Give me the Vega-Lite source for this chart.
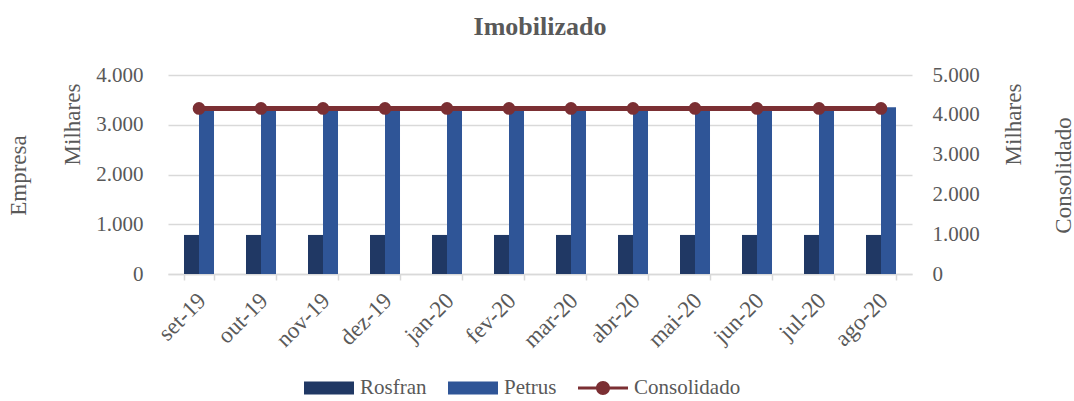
{
  "$schema": "https://vega.github.io/schema/vega-lite/v6.json",
  "width": 744,
  "height": 199,
  "autosize": {"type": "none"},
  "padding": {"left": 168, "top": 75, "right": 162, "bottom": 127},
  "background": "white",
  "title": {
    "text": "Imobilizado",
    "font": "Liberation Serif",
    "fontSize": 26,
    "fontWeight": "bold",
    "color": "#595959",
    "anchor": "middle",
    "frame": "group",
    "baseline": "alphabetic",
    "offset": 3
  },
  "datasets": {
    "bars": [
      {"mes": "set-19", "serie": "Rosfran", "valor": 785},
      {"mes": "set-19", "serie": "Petrus", "valor": 3300},
      {"mes": "out-19", "serie": "Rosfran", "valor": 785},
      {"mes": "out-19", "serie": "Petrus", "valor": 3300},
      {"mes": "nov-19", "serie": "Rosfran", "valor": 785},
      {"mes": "nov-19", "serie": "Petrus", "valor": 3300},
      {"mes": "dez-19", "serie": "Rosfran", "valor": 785},
      {"mes": "dez-19", "serie": "Petrus", "valor": 3300},
      {"mes": "jan-20", "serie": "Rosfran", "valor": 785},
      {"mes": "jan-20", "serie": "Petrus", "valor": 3300},
      {"mes": "fev-20", "serie": "Rosfran", "valor": 785},
      {"mes": "fev-20", "serie": "Petrus", "valor": 3300},
      {"mes": "mar-20", "serie": "Rosfran", "valor": 785},
      {"mes": "mar-20", "serie": "Petrus", "valor": 3300},
      {"mes": "abr-20", "serie": "Rosfran", "valor": 785},
      {"mes": "abr-20", "serie": "Petrus", "valor": 3300},
      {"mes": "mai-20", "serie": "Rosfran", "valor": 785},
      {"mes": "mai-20", "serie": "Petrus", "valor": 3300},
      {"mes": "jun-20", "serie": "Rosfran", "valor": 785},
      {"mes": "jun-20", "serie": "Petrus", "valor": 3300},
      {"mes": "jul-20", "serie": "Rosfran", "valor": 785},
      {"mes": "jul-20", "serie": "Petrus", "valor": 3300},
      {"mes": "ago-20", "serie": "Rosfran", "valor": 785},
      {"mes": "ago-20", "serie": "Petrus", "valor": 3350}
    ],
    "cons": [
      {"mes": "set-19", "serie": "Consolidado", "valor": 4160},
      {"mes": "out-19", "serie": "Consolidado", "valor": 4160},
      {"mes": "nov-19", "serie": "Consolidado", "valor": 4160},
      {"mes": "dez-19", "serie": "Consolidado", "valor": 4160},
      {"mes": "jan-20", "serie": "Consolidado", "valor": 4160},
      {"mes": "fev-20", "serie": "Consolidado", "valor": 4160},
      {"mes": "mar-20", "serie": "Consolidado", "valor": 4160},
      {"mes": "abr-20", "serie": "Consolidado", "valor": 4160},
      {"mes": "mai-20", "serie": "Consolidado", "valor": 4160},
      {"mes": "jun-20", "serie": "Consolidado", "valor": 4160},
      {"mes": "jul-20", "serie": "Consolidado", "valor": 4160},
      {"mes": "ago-20", "serie": "Consolidado", "valor": 4160}
    ]
  },
  "encoding": {
    "x": {
      "field": "mes",
      "type": "nominal",
      "sort": null,
      "scale": {"paddingInner": 0.516, "paddingOuter": 0.258},
      "axis": {
        "title": null,
        "labelAngle": -45,
        "labelFont": "Liberation Serif",
        "labelFontSize": 23,
        "labelColor": "#595959",
        "labelPadding": 9,
        "labelOffset": -5,
        "tickBand": "extent",
        "ticks": true,
        "tickSize": 6,
        "tickColor": "#D9D9D9",
        "tickWidth": 1.5,
        "domainColor": "#D9D9D9",
        "domainWidth": 1.5,
        "grid": false
      }
    }
  },
  "layer": [
    {
      "data": {"name": "bars"},
      "mark": {"type": "bar"},
      "encoding": {
        "xOffset": {"field": "serie", "type": "nominal", "sort": ["Rosfran", "Petrus"], "scale": {"paddingInner": 0, "paddingOuter": 0}},
        "y": {
          "field": "valor",
          "type": "quantitative",
          "scale": {"domain": [0, 4000], "nice": false},
          "axis": {
            "orient": "left",
            "values": [0, 1000, 2000, 3000, 4000],
            "labelExpr": "replace(format(datum.value, ','), ',', '.')",
            "labelFont": "Liberation Serif",
            "labelFontSize": 21,
            "labelColor": "#595959",
            "labelPadding": 25,
            "ticks": false,
            "domain": false,
            "grid": true,
            "gridColor": "#D9D9D9",
            "gridWidth": 1.5,
            "title": "Empresa",
            "titleFont": "Liberation Serif",
            "titleFontSize": 23,
            "titleFontWeight": "normal",
            "titleColor": "#595959",
            "titleAngle": -90,
            "titleAlign": "center",
            "titleBaseline": "middle",
            "titleX": -150,
            "titleY": 100
          }
        },
        "color": {
          "field": "serie",
          "type": "nominal",
          "scale": {"domain": ["Rosfran", "Petrus", "Consolidado"], "range": ["#203864", "#2F5597", "#7B2F33"]},
          "legend": {
            "orient": "none",
            "legendX": 135,
            "legendY": 287,
            "direction": "horizontal",
            "title": null,
            "symbolSize": 2500,
            "columnPadding": 18,
            "labelFont": "Liberation Serif",
            "labelFontSize": 21,
            "labelColor": "#595959",
            "labelOffset": 5,
            "encode": {
              "symbols": {
                "update": {
                  "shape": {"signal": "datum.value === 'Consolidado' ? 'M-1,-0.06H1V0.06H-1Z M-0.28,0A0.28,0.28 0 1,1 0.28,0A0.28,0.28 0 1,1 -0.28,0Z' : 'M-1,-0.26H1V0.26H-1Z'"},
                  "fill": {"signal": "datum.value === 'Rosfran' ? '#203864' : datum.value === 'Petrus' ? '#2F5597' : '#7B2F33'"},
                  "stroke": {"value": "transparent"},
                  "opacity": {"value": 1},
                  "fillOpacity": {"value": 1}
                }
              }
            }
          }
        }
      }
    },
    {
      "data": {"name": "bars"},
      "mark": {"type": "point", "opacity": 0},
      "encoding": {
        "y": {
          "field": "valor",
          "type": "quantitative",
          "scale": {"domain": [0, 4000], "nice": false},
          "axis": {
            "orient": "left",
            "labels": false,
            "ticks": false,
            "domain": false,
            "grid": false,
            "title": "Milhares",
            "titleFont": "Liberation Serif",
            "titleFontSize": 23,
            "titleFontWeight": "normal",
            "titleColor": "#595959",
            "titleAngle": -90,
            "titleAlign": "center",
            "titleBaseline": "middle",
            "titleX": -96,
            "titleY": 49
          }
        }
      }
    },
    {
      "data": {"name": "cons"},
      "mark": {"type": "line", "color": "#7B2F33", "strokeWidth": 5},
      "encoding": {
        "y": {
          "field": "valor",
          "type": "quantitative",
          "scale": {"domain": [0, 5000], "nice": false},
          "axis": {
            "orient": "right",
            "values": [0, 1000, 2000, 3000, 4000, 5000],
            "labelExpr": "replace(format(datum.value, ','), ',', '.')",
            "labelFont": "Liberation Serif",
            "labelFontSize": 21,
            "labelColor": "#595959",
            "labelPadding": 20,
            "ticks": false,
            "domain": false,
            "grid": false,
            "title": "Consolidado",
            "titleFont": "Liberation Serif",
            "titleFontSize": 23,
            "titleFontWeight": "normal",
            "titleColor": "#595959",
            "titleAngle": -90,
            "titleAlign": "center",
            "titleBaseline": "middle",
            "titleX": 151,
            "titleY": 100
          }
        }
      }
    },
    {
      "data": {"name": "cons"},
      "mark": {"type": "point", "shape": "circle", "filled": true, "color": "#7B2F33", "size": 160, "opacity": 1},
      "encoding": {
        "y": {
          "field": "valor",
          "type": "quantitative",
          "scale": {"domain": [0, 5000], "nice": false},
          "axis": {
            "orient": "right",
            "labels": false,
            "ticks": false,
            "domain": false,
            "grid": false,
            "title": "Milhares",
            "titleFont": "Liberation Serif",
            "titleFontSize": 23,
            "titleFontWeight": "normal",
            "titleColor": "#595959",
            "titleAngle": -90,
            "titleAlign": "center",
            "titleBaseline": "middle",
            "titleX": 101,
            "titleY": 49
          }
        }
      }
    }
  ],
  "resolve": {"scale": {"y": "independent"}},
  "config": {"view": {"stroke": null}}
}
